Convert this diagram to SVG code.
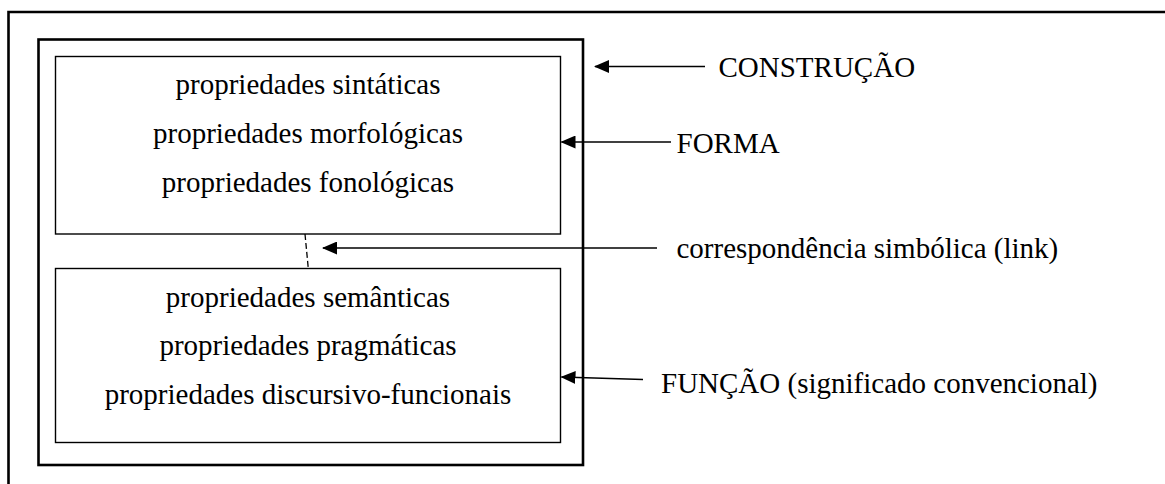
<svg xmlns="http://www.w3.org/2000/svg" width="1165" height="484" viewBox="0 0 1165 484">
<defs>
<style>
.t{font-family:"Liberation Serif","Times New Roman",serif;font-size:29px;fill:#000}
.c{text-anchor:middle}
.box{fill:none;stroke:#000;stroke-width:1.4}
.frame{fill:none;stroke:#000;stroke-width:2.6}
.arr{stroke:#000;stroke-width:1.4;fill:none;marker-end:url(#ah)}
</style>
<marker id="ah" markerUnits="userSpaceOnUse" viewBox="0 0 15 13" markerWidth="15" markerHeight="13" refX="14" refY="6.5" orient="auto">
<path d="M0,0 L15,6.5 L0,13 z" fill="#000"/>
</marker>
</defs>
<rect width="1165" height="484" fill="#fff"/>
<g id="outer-frame">
<path class="frame" d="M8.5,490 L8.5,12 L1170,12"/>
</g>
<g id="construcao">
<rect class="frame" x="38.5" y="39.5" width="544.5" height="425.5"/>
</g>
<g id="forma">
<rect class="box" x="55.5" y="56.5" width="505" height="177.5"/>
<text class="t c" x="308" y="93.5">propriedades sintáticas</text>
<text class="t c" x="308" y="142.5">propriedades morfológicas</text>
<text class="t c" x="308" y="191.5">propriedades fonológicas</text>
</g>
<g id="funcao">
<rect class="box" x="55.5" y="268.5" width="505" height="174"/>
<text class="t c" x="308" y="306.5">propriedades semânticas</text>
<text class="t c" x="308" y="355">propriedades pragmáticas</text>
<text class="t c" x="308" y="403.5">propriedades discursivo-funcionais</text>
</g>
<g id="label-construcao"><text class="t" x="718.5" y="76.5">CONSTRUÇÃO</text></g>
<g id="label-forma"><text class="t" x="676.5" y="152.5">FORMA</text></g>
<g id="label-link"><text class="t" x="676.5" y="258">correspondência simbólica (link)</text></g>
<g id="label-funcao"><text class="t" x="661" y="393">FUNÇÃO (significado convencional)</text></g>
<g id="connectors">
<line x1="305" y1="234" x2="308.3" y2="268.5" stroke="#000" stroke-width="1.3" stroke-dasharray="6 3"/>
<line class="arr" x1="705" y1="66.5" x2="595" y2="66.5"/>
<line class="arr" x1="671" y1="142" x2="561.5" y2="142"/>
<line class="arr" x1="657" y1="248" x2="323" y2="248"/>
<line class="arr" x1="643" y1="379.5" x2="561.5" y2="377"/>
</g>
</svg>
